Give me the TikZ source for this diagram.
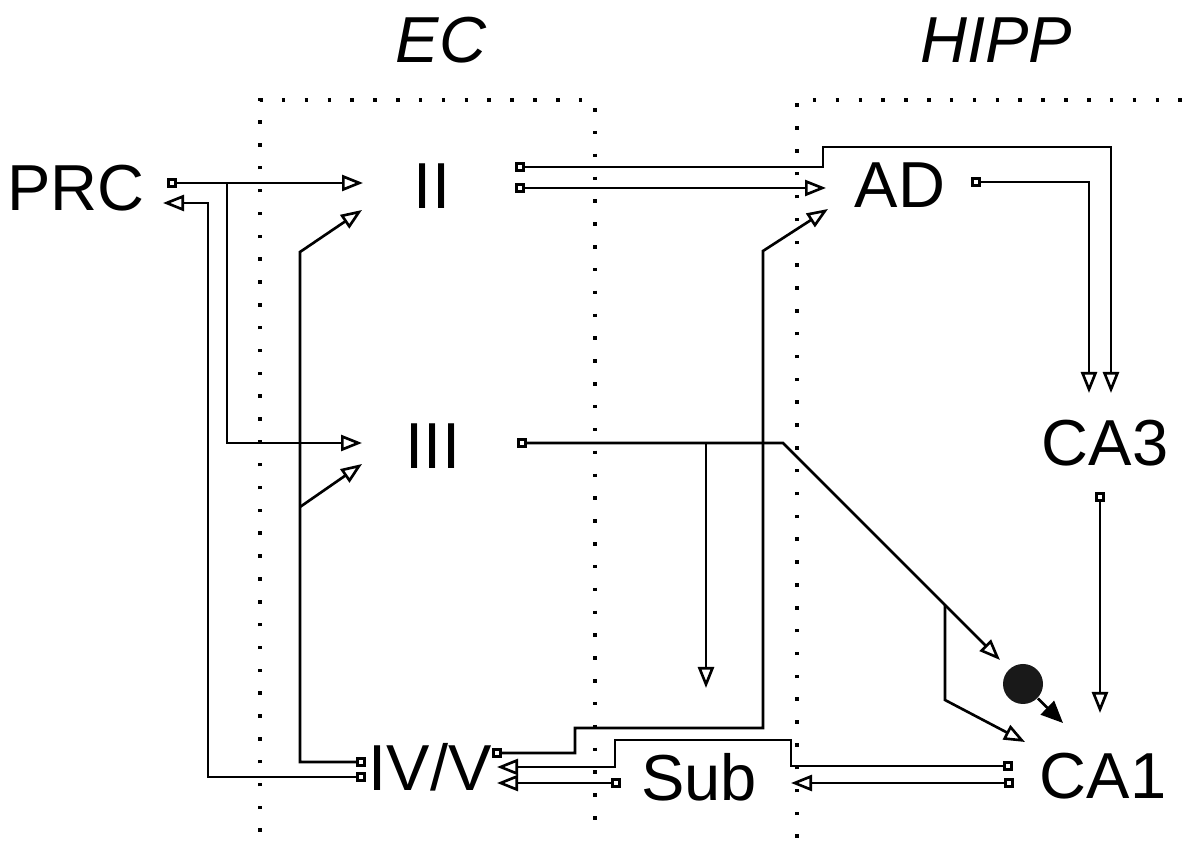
\documentclass[tikz,border=0pt]{standalone}
\usepackage{fontspec}
\setmainfont{Liberation Sans}
\usetikzlibrary{arrows.meta}

\begin{document}
\begin{tikzpicture}[
    lbl/.style={inner sep=0pt,font=\fontsize{18.5}{22}\selectfont},
    termbox/.style={draw,fill=white,line width=0.8pt,minimum size=0.075cm,inner sep=0pt},
    conn/.style={line width=0.75pt,-{Triangle[open,length=0.21cm,width=0.16cm]}},
    plain/.style={line width=0.75pt},
    zone/.style={line width=1pt,dash pattern=on 1pt off 5.5pt}
  ]
    \useasboundingbox (0,0) rectangle (11.95,-8.41);

    % region frames
    \node[lbl,font=\fontsize{18.5}{22}\selectfont\itshape] (ec) at (4.41,-0.40) {EC};
    \node[lbl,font=\fontsize{18.5}{22}\selectfont\itshape] (hipp) at (9.96,-0.40) {HIPP};
    \draw[zone] (2.60,-8.32) -- (2.60,-1.00) -- (5.90,-1.00);
    \draw[zone] (5.95,-1.08) -- (5.95,-8.38);
    \draw[zone] (7.97,-8.38) -- (7.97,-1.00) -- (11.95,-1.00);

    % areas
    \node[lbl] (prc) at (0.76,-1.88) {PRC};
    \node[lbl] (ii) at (4.32,-1.86) {II};
    \node[lbl] (iii) at (4.33,-4.46) {III};
    \node[lbl] (ivv) at (4.30,-7.67) {IV/V};
    \node[lbl] (sub) at (6.99,-7.77) {Sub};
    \node[lbl] (ad) at (9.00,-1.85) {AD};
    \node[lbl] (ca3) at (11.05,-4.43) {CA3};
    \node[lbl] (ca1) at (11.03,-7.76) {CA1};
    \node[circle,fill=black!90,minimum size=0.40cm,inner sep=0pt] (dot) at (10.23,-6.84) {};

    % output terminals
    \node[termbox] (prco) at (1.72,-1.83) {};
    \node[termbox] (iia) at (5.20,-1.67) {};
    \node[termbox] (iib) at (5.20,-1.88) {};
    \node[termbox] (iiio) at (5.22,-4.43) {};
    \node[termbox] (ado) at (9.76,-1.82) {};
    \node[termbox] (ca3o) at (11.00,-4.97) {};
    \node[termbox] (ivva) at (3.61,-7.62) {};
    \node[termbox] (ivvb) at (3.61,-7.77) {};
    \node[termbox] (ivvc) at (4.97,-7.53) {};
    \node[termbox] (subo) at (6.16,-7.83) {};
    \node[termbox] (ca1a) at (10.08,-7.66) {};
    \node[termbox] (ca1b) at (10.09,-7.83) {};

    % input points
    \coordinate (prcin) at (1.63,-2.03);
    \coordinate (iiin1) at (3.63,-1.83);
    \coordinate (iiin2) at (3.62,-2.10);
    \coordinate (iiiin1) at (3.62,-4.43);
    \coordinate (iiiin2) at (3.62,-4.64);
    \coordinate (adin1) at (8.26,-1.88);
    \coordinate (adin2) at (8.28,-2.09);
    \coordinate (ca3in1) at (10.89,-3.93);
    \coordinate (ca3in2) at (11.11,-3.93);
    \coordinate (dotin) at (10.00,-6.60);
    \coordinate (submid) at (7.06,-6.88);
    \coordinate (ca1in1) at (10.25,-7.42);
    \coordinate (ca1in2) at (11.00,-7.13);
    \coordinate (ca1in3) at (10.63,-7.23);
    \coordinate (ivvin1) at (4.97,-7.67);
    \coordinate (ivvin2) at (4.97,-7.83);
    \coordinate (subin) at (7.91,-7.83);
    \coordinate (prcj) at (2.27,-1.83);
    \coordinate (ivvj) at (3.00,-5.07);
    \coordinate (iiij) at (7.06,-4.43);
    \coordinate (diagj) at (9.45,-6.05);

    % PRC
    \draw[conn] (prco) -- (iiin1);
    \draw[conn] (prcj) |- (iiiin1);
    \draw[conn] (ivvb) -| (2.08,-2.03) -- (prcin);
    % IV/V
    \draw[conn] (ivva) -| (3.00,-2.52) -- (iiin2);
    \draw[conn] (ivvj) -- (iiiin2);
    \draw[conn] (ivvc) -| (5.75,-7.28) -| (7.63,-2.51) -- (adin2);
    % II
    \draw[conn] (iib) -- (adin1);
    \draw[conn] (iia) -| (8.23,-1.47) -| (ca3in2);
    % III
    \draw[conn] (iiio) -- (7.83,-4.43) -- (dotin);
    \draw[conn] (iiij) -- (submid);
    \draw[conn] (diagj) -- (9.45,-7.00) -- (ca1in1);
    % HIPP
    \draw[conn] (ado) -| (ca3in1);
    \draw[conn] (ca3o) -- (ca1in2);
    \draw[plain,-{Triangle[length=0.22cm,width=0.19cm]}] (dot) -- (ca1in3);
    \draw[conn] (ca1a) -| (7.91,-7.40) -| (6.15,-7.67) -- (ivvin1);
    \draw[conn] (ca1b) -- (subin);
    \draw[conn] (subo) -- (ivvin2);
  \end{tikzpicture}
\end{document}
